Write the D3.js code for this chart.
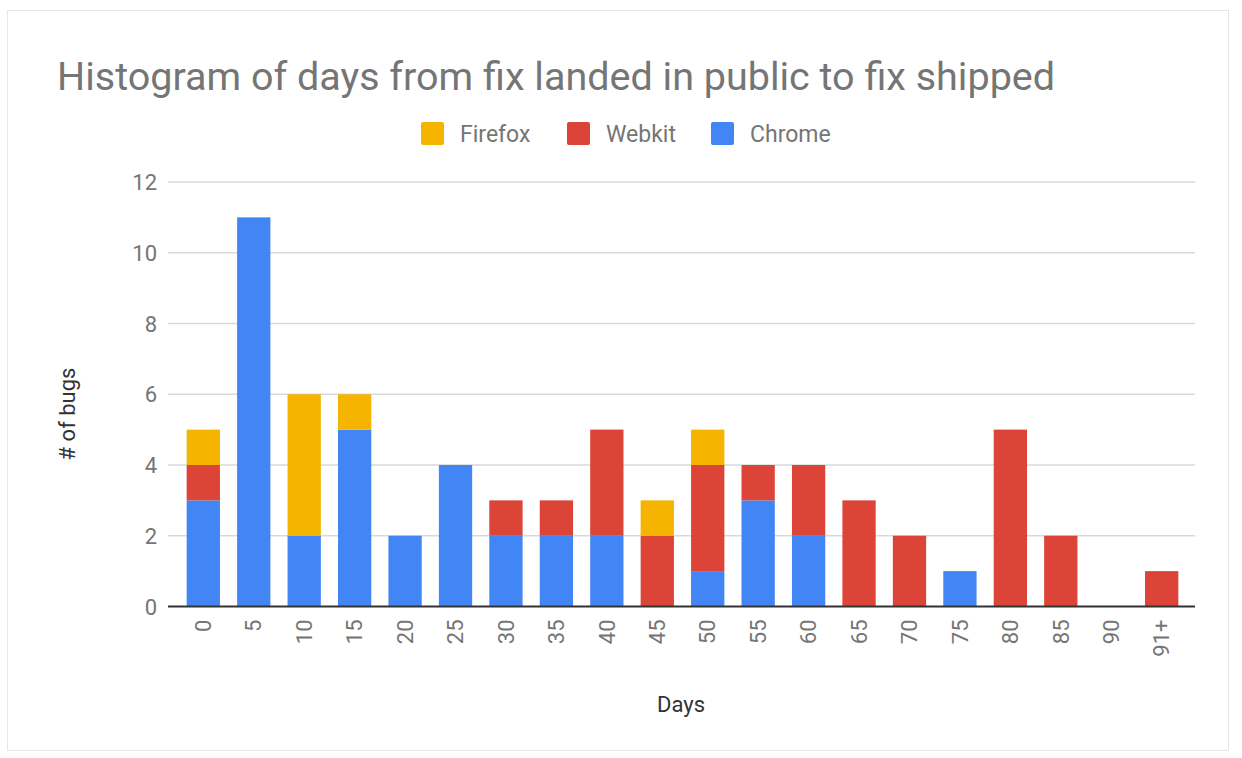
<!DOCTYPE html>
<html><head><meta charset="utf-8">
<script src="https://cdn.jsdelivr.net/npm/d3@7"></script>
<style>body{margin:0;background:#fff;font-family:Roboto,"Noto Sans",sans-serif}</style>
</head><body><svg id="c" width="1242" height="758"></svg>
<script>
const categories = ["0","5","10","15","20","25","30","35","40","45","50","55","60","65","70","75","80","85","90","91+"];
const chrome  = [3,11,2,5,2,4,2,2,2,0,1,3,2,0,0,1,0,0,0,0];
const webkit  = [1,0,0,0,0,0,1,1,3,2,3,1,2,3,2,0,5,2,0,1];
const firefox = [1,0,4,1,0,0,0,0,0,1,1,0,0,0,0,0,0,0,0,0];
const seriesNames = ["Chrome","Webkit","Firefox"];
const legendOrder = ["Firefox","Webkit","Chrome"];
const yTicks = [0,2,4,6,8,10,12];
const colors = {Chrome:"#4285F4", Webkit:"#DB4437", Firefox:"#F4B400"};

const svg = d3.select("#c");
svg.append("rect").attr("x",7.5).attr("y",10.5).attr("width",1221).attr("height",740)
  .attr("fill","#fff").attr("stroke","#e6e6e6");

const x = d3.scaleBand().domain(categories).range([178.1,1186.9]).paddingInner(0.34).paddingOuter(0.17);
const y = d3.scaleLinear().domain([0,12]).range([606.5,182]);

// gridlines
svg.append("g").selectAll("line").data(yTicks.filter(d=>d>0)).join("line")
  .attr("x1",168).attr("x2",1195).attr("y1",d=>y(d)).attr("y2",d=>y(d))
  .attr("stroke","#d9d9d9").attr("stroke-width",1.5);

// y axis labels
const yAxis = d3.axisLeft(y).tickValues(yTicks).tickSize(0).tickPadding(0);
const ga = svg.append("g").attr("transform","translate(157,0)").call(yAxis);
ga.select(".domain").remove();
ga.selectAll("text").attr("font-size",22).attr("fill","#757575").attr("font-family","Roboto").attr("dy","0.35em");

// stacked bars
const rows = categories.map((c,i)=>({cat:c, Chrome:chrome[i], Webkit:webkit[i], Firefox:firefox[i]}));
const stack = d3.stack().keys(seriesNames)(rows);
svg.append("g").selectAll("g").data(stack).join("g").attr("fill",d=>colors[d.key])
  .selectAll("rect").data(d=>d.filter(s=>s[1]>s[0])).join("rect")
  .attr("x",d=>x(d.data.cat)).attr("width",x.bandwidth())
  .attr("y",d=>y(d[1])).attr("height",d=>y(d[0])-y(d[1]));

// baseline
svg.append("line").attr("x1",168).attr("x2",1195).attr("y1",y(0)).attr("y2",y(0))
  .attr("stroke","#333").attr("stroke-width",2);

// x labels
const xAxis = d3.axisBottom(x).tickSize(0).tickPadding(0);
const gx = svg.append("g").attr("transform",`translate(0,${y(0)+13})`).call(xAxis);
gx.select(".domain").remove();
gx.selectAll("text").attr("font-size",22).attr("fill","#757575").attr("font-family","Roboto")
  .attr("text-anchor","end").attr("dy","0.35em").attr("transform","rotate(-90)")
  .attr("x",0).attr("y",0);

// title
svg.append("text").attr("x",57).attr("y",90).attr("font-size",39.5).attr("fill","#757575")
  .attr("font-family","Roboto").text("Histogram of days from fix landed in public to fix shipped");

// legend
const lx = {Firefox:421, Webkit:567, Chrome:711};
const lg = svg.append("g").selectAll("g").data(legendOrder).join("g")
  .attr("transform",d=>`translate(${lx[d]},122)`);
lg.append("rect").attr("width",23).attr("height",23).attr("rx",2).attr("fill",d=>colors[d]);
lg.append("text").attr("x",39).attr("y",19.5).attr("font-size",23).attr("fill","#757575")
  .attr("font-family","Roboto").text(d=>d);

// axis titles
svg.append("text").attr("transform","translate(75,414) rotate(-90)").attr("text-anchor","middle")
  .attr("font-size",22).attr("fill","#333").attr("font-family","Roboto").text("# of bugs");
svg.append("text").attr("x",681).attr("y",712).attr("text-anchor","middle")
  .attr("font-size",22).attr("fill","#333").attr("font-family","Roboto").text("Days");
</script></body></html>
